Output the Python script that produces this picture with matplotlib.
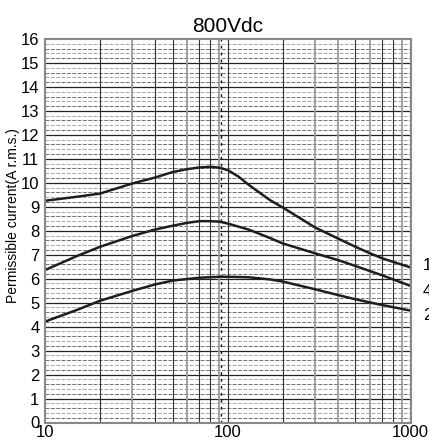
import matplotlib
matplotlib.use("Agg")
import matplotlib.pyplot as plt
from matplotlib.ticker import FixedLocator, NullFormatter

plt.rcParams['font.family'] = ['Liberation Sans Narrow', 'Liberation Sans', 'DejaVu Sans']

# data (frequency, current)
freq_top = [10, 15, 20, 30, 40, 50, 60, 70, 80, 90, 100, 115, 130, 170, 200, 300, 400, 500, 600, 700, 1000]
cur_top = [9.25, 9.42, 9.55, 9.97, 10.22, 10.45, 10.57, 10.64, 10.67, 10.63, 10.53, 10.25, 9.92, 9.28, 8.97, 8.14, 7.68, 7.33, 7.06, 6.85, 6.47]

freq_mid = [10, 15, 20, 30, 40, 50, 60, 70, 80, 90, 100, 130, 170, 200, 300, 400, 500, 700, 1000]
cur_mid = [6.36, 6.95, 7.33, 7.78, 8.05, 8.21, 8.33, 8.40, 8.40, 8.38, 8.30, 8.05, 7.70, 7.47, 7.06, 6.78, 6.53, 6.14, 5.70]

freq_bot = [10, 15, 20, 30, 40, 50, 70, 90, 100, 130, 170, 200, 300, 400, 500, 700, 1000]
cur_bot = [4.21, 4.70, 5.08, 5.49, 5.76, 5.92, 6.04, 6.08, 6.08, 6.06, 5.97, 5.88, 5.56, 5.32, 5.14, 4.90, 4.67]

title = "800Vdc"
ylabel = "Permissible current(A r.m.s.)"
xticks = [10, 100, 1000]
xticklabels = ["10", "100", "1000"]
yticks = list(range(0, 17))
end_labels = ["1", "4", "2"]

W, H = 429, 441
fig = plt.figure(figsize=(W / 100, H / 100), dpi=100)
ax = fig.add_axes([45 / W, 1 - 422.5 / H, (410.5 - 45) / W, (422.5 - 39) / H])
ax.set_xscale('log')
ax.set_xlim(10, 1000)
ax.set_ylim(0, 16)

# grid: horizontal
for v in range(0, 16):
    for k in range(1, 5):
        yy = v + 0.2 * k
        col = '#707070' if k % 2 == 1 else '#a8a8a8'
        ax.axhline(yy, color=col, lw=0.7, ls=(0, (4, 1.5)), zorder=1)
for v in range(1, 16):
    ax.axhline(v, color='#222222', lw=0.9, zorder=2)

# grid: vertical
gray_v = {30, 60, 90, 300, 400, 600, 900}
for dec in [10, 100]:
    for m in range(1, 10):
        xv = dec * m
        if xv == 10:
            continue
        if xv in gray_v:
            ax.axvline(xv, color='#9a9a9a', lw=1.3, zorder=2)
        else:
            ax.axvline(xv, color='#333333', lw=0.8, zorder=2)
ax.axvline(92, color='#111111', lw=1.0, ls=(0, (2, 3)), zorder=2.5)

# curves
for f, c in [(freq_top, cur_top), (freq_mid, cur_mid), (freq_bot, cur_bot)]:
    ax.plot(f, c, color='#1e1e1e', lw=1.8, zorder=5, solid_capstyle='butt')

ax.xaxis.set_major_locator(FixedLocator(xticks))
ax.set_xticklabels(xticklabels)
ax.xaxis.set_minor_formatter(NullFormatter())
ax.set_yticks(yticks)
ax.tick_params(axis='both', which='both', length=0, labelsize=12)
ax.tick_params(axis='x', pad=2)
ax.tick_params(axis='y', pad=4)

for s in ax.spines.values():
    s.set_color('#888888')
    s.set_linewidth(1.5)
    s.set_zorder(6)

ax.set_title(title, fontsize=15, pad=5, family=['Liberation Sans', 'DejaVu Sans'])
fig.text(13 / W, 1 - 216 / H, ylabel, rotation=90, fontsize=10,
         ha='center', va='center', family=['Liberation Sans', 'DejaVu Sans'])

for lab, py in zip(end_labels, [266, 291, 316]):
    fig.text(423 / W, 1 - py / H, lab, fontsize=12, ha='left', va='center')

fig.savefig("out.png", dpi=100)
